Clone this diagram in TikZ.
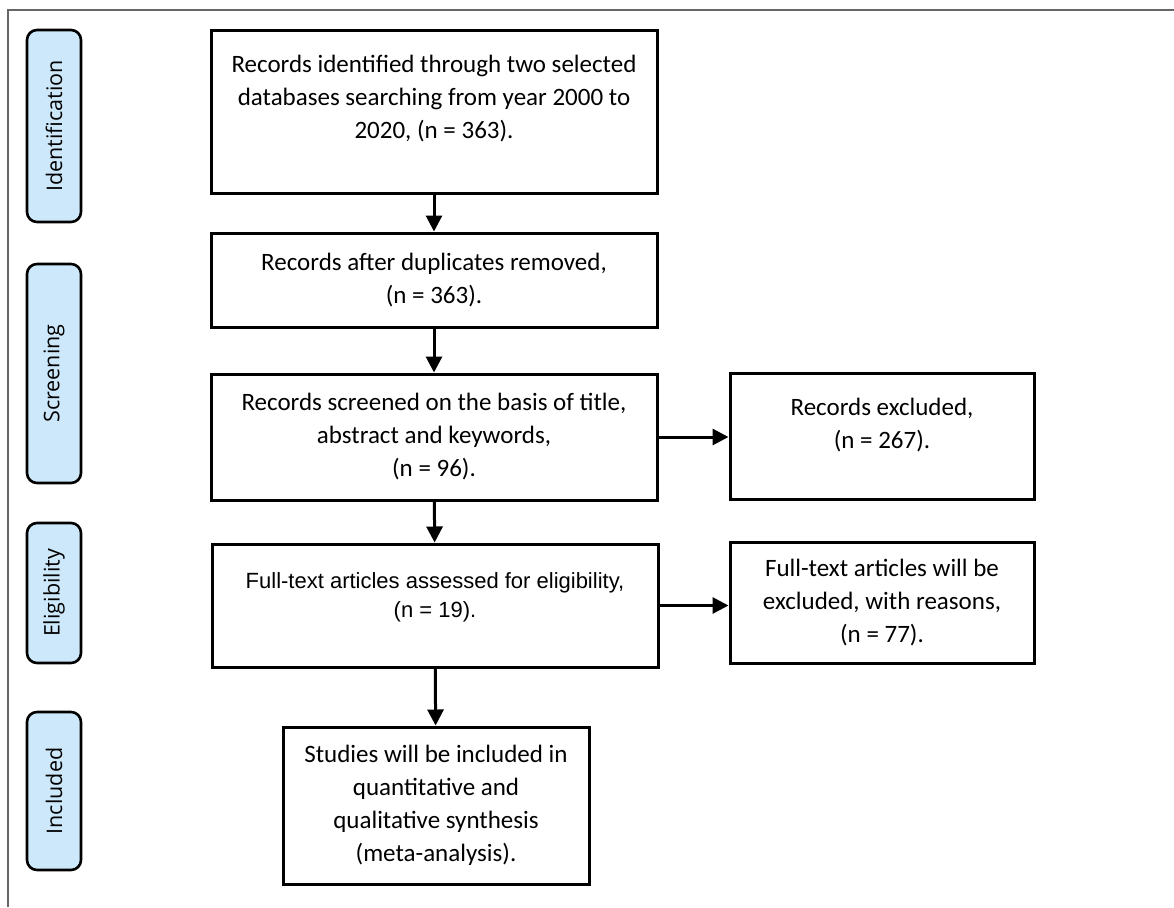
\documentclass[tikz,border=0pt]{standalone}
\usepackage{fontspec}
\setmainfont{Carlito}
\newfontfamily\arialfont{Liberation Sans}
\newfontfamily\stagefont{Open Sans}
\usepackage{tikz}
\usepackage{xcolor}
\usetikzlibrary{positioning,shapes,arrows.meta}
\definecolor{stageblue}{RGB}{204,232,250}

\begin{document}
\begin{tikzpicture}[x=1pt,y=-1pt]%[scale=2.5]
\useasboundingbox (0,0) rectangle (1174,907);
\draw[black!60,line width=1.4pt] (8,907) -- (8,10) -- (1174,10);
\tikzstyle{every node}=[draw,line width=3pt,inner sep=0pt,align=center,font=\fontsize{25}{33}\selectfont];
\tikzstyle{stage}=[rounded corners=10pt,fill=stageblue,line width=2.6pt,rotate=90,minimum height=54pt,font=\stagefont\fontsize{21.5}{25}\selectfont];
\tikzstyle{arr}=[line width=3pt,-{Triangle[length=16pt,width=16pt]}];

\draw node[stage,minimum width=192pt] (s1) at (54,126) {Identification};
\draw node[stage,minimum width=219pt] (s2) at (54,373.5) {Screening};
\draw node[stage,minimum width=140pt] (s3) at (54,593) {Eligibility};
\draw node[stage,minimum width=158pt] (s4) at (54,791) {Included};

\draw node[minimum width=446pt,minimum height=162pt] (v1) at (434,112) {Records identified through two selected\\databases searching from year 2000 to\\2020, (n = 363).\\[-3pt]\mbox{}};
\draw node[minimum width=446pt,minimum height=94pt] (v2) at (434,280) {Records after duplicates removed,\\(n = 363).};
\draw node[minimum width=446pt,minimum height=126pt] (v3) at (434,437) {Records screened on the basis of title,\\abstract and keywords,\\(n = 96).};
\draw node[minimum width=446pt,minimum height=123pt,font=\arialfont\fontsize{22}{29}\selectfont] (v4) at (435,605.5) {Full-text articles assessed for eligibility,\\(n = 19).\\[-9pt]\mbox{}};
\draw node[minimum width=306pt,minimum height=157pt] (v5) at (436,805.5) {Studies will be included in\\quantitative and\\qualitative synthesis\\(meta-analysis).};
\draw node[minimum width=304pt,minimum height=126pt] (x1) at (882,436) {Records excluded,\\(n = 267).\\[-7pt]\mbox{}};
\draw node[minimum width=304pt,minimum height=121pt] (x2) at (882,602.5) {Full-text articles will be\\excluded, with reasons,\\(n = 77).};

\draw[arr] (v1) -- (v2);
\draw[arr] (v2) -- (v3);
\draw[arr] (v3) -- (v4);
\draw[arr] (v4) -- (v5);
\draw[arr] (v3.east) -- (v3.east -| x1.west);
\draw[arr] (v4.east) -- (v4.east -| x2.west);
\end{tikzpicture}
\end{document}
